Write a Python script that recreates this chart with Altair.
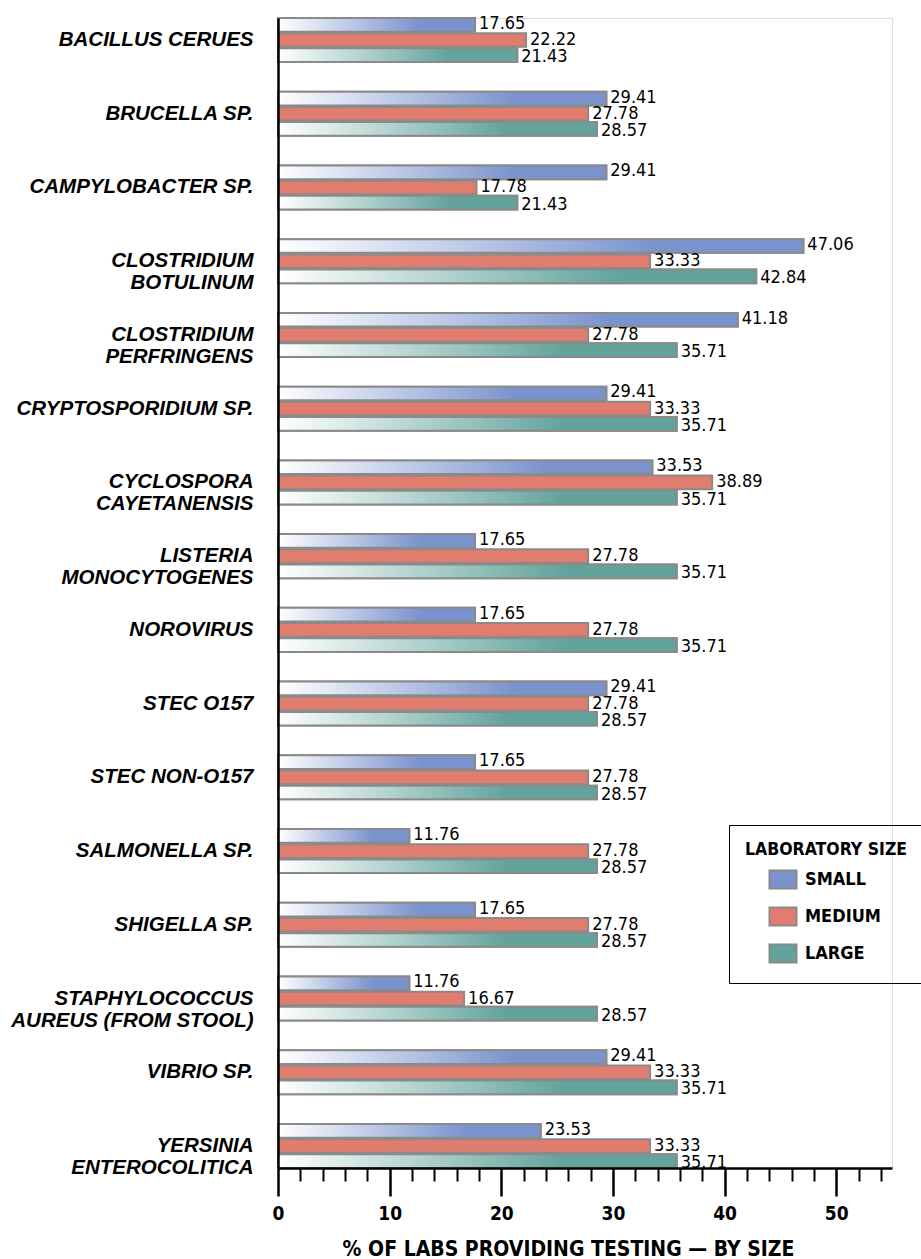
import altair as alt
import pandas as pd

# Organisms (line breaks mark two-line axis labels)
categories = [
    "BACILLUS CERUES",
    "BRUCELLA SP.",
    "CAMPYLOBACTER SP.",
    "CLOSTRIDIUM\nBOTULINUM",
    "CLOSTRIDIUM\nPERFRINGENS",
    "CRYPTOSPORIDIUM SP.",
    "CYCLOSPORA\nCAYETANENSIS",
    "LISTERIA\nMONOCYTOGENES",
    "NOROVIRUS",
    "STEC O157",
    "STEC NON-O157",
    "SALMONELLA SP.",
    "SHIGELLA SP.",
    "STAPHYLOCOCCUS\nAUREUS (FROM STOOL)",
    "VIBRIO SP.",
    "YERSINIA\nENTEROCOLITICA",
]

# % of labs providing testing, by laboratory size
small = [17.65, 29.41, 29.41, 47.06, 41.18, 29.41, 33.53, 17.65,
         17.65, 29.41, 17.65, 11.76, 17.65, 11.76, 29.41, 23.53]
medium = [22.22, 27.78, 17.78, 33.33, 27.78, 33.33, 38.89, 27.78,
          27.78, 27.78, 27.78, 27.78, 27.78, 16.67, 33.33, 33.33]
large = [21.43, 28.57, 21.43, 42.84, 35.71, 35.71, 35.71, 35.71,
         35.71, 28.57, 28.57, 28.57, 28.57, 28.57, 35.71, 35.71]

sizes = ["SMALL", "MEDIUM", "LARGE"]
colors = ["#7B93CD", "#E07D6F", "#62A39B"]
x_ticks = list(range(0, 56, 2))

rows = []
for i, org in enumerate(categories):
    for s, vals in zip(sizes, (small, medium, large)):
        rows.append({"organism": org, "size": s, "pct": vals[i]})
df = pd.DataFrame(rows)

SANS = "Liberation Sans"
COND = "DejaVu Sans Condensed"
BAR_STROKE = "#8A8A8A"
MAJOR = "datum.value % 10 === 0"

x_enc = alt.X(
    "pct:Q",
    scale=alt.Scale(domain=[0, 55], nice=False, zero=True),
    axis=alt.Axis(
        title="% OF LABS PROVIDING TESTING \u2014 BY SIZE",
        values=x_ticks,
        labelExpr=f"{MAJOR} ? datum.label : ''",
        tickSize=28,
        # minor ticks: only the first 13px of each tick is drawn
        tickDash={"condition": {"test": MAJOR, "value": [40, 10]}, "value": [13, 40]},
        tickWidth={"condition": {"test": MAJOR, "value": 2.5}, "value": 2},
        tickColor="black",
        domainColor="black",
        domainWidth=2.5,
        grid=False,
        labelFont=COND,
        labelFontSize=19,
        labelFontWeight="bold",
        labelColor="black",
        labelPadding=8,
        labelFlush=False,
        titleFont=COND,
        titleFontSize=21,
        titleFontWeight="bold",
        titleColor="black",
        titleX=290,
        titleY=87,
        titleAlign="center",
        titleBaseline="alphabetic",
        zindex=1,
    ),
)

y_enc = alt.Y(
    "organism:N",
    sort=categories,
    scale=alt.Scale(paddingInner=0.403, paddingOuter=0),
    axis=alt.Axis(
        title=None,
        labelExpr="split(datum.label, '\\n')",
        labelFont=SANS,
        labelFontSize=20.5,
        labelFontStyle="italic",
        labelFontWeight="bold",
        labelColor="black",
        labelLineHeight=22,
        labelPadding=25,
        labelLimit=400,
        ticks=False,
        domainColor="black",
        domainWidth=2.5,
        zindex=1,
    ),
)

y_off = alt.YOffset(
    "size:N",
    sort=sizes,
    scale=alt.Scale(domain=sizes, paddingInner=0.1, paddingOuter=0),
)


def ramp(color):
    return alt.Gradient(
        gradient="linear",
        stops=[
            alt.GradientStop(color="#FFFFFF", offset=0),
            alt.GradientStop(color=color, offset=0.72),
            alt.GradientStop(color=color, offset=1),
        ],
        x1=0, x2=1, y1=0, y2=0,
    )


base = alt.Chart(df)

# solid bars carry the legend
solid = base.mark_bar(stroke=BAR_STROKE, strokeWidth=2).encode(
    x=x_enc,
    y=y_enc,
    yOffset=y_off,
    color=alt.Color(
        "size:N",
        scale=alt.Scale(domain=sizes, range=colors),
        legend=alt.Legend(
            title="LABORATORY SIZE",
            orient="none",
            legendX=451,
            legendY=807,
            padding=16,
            strokeColor="black",
            titleFont=COND,
            titleFontSize=17.5,
            titleFontWeight="bold",
            titleColor="black",
            titleLimit=400,
            titlePadding=11,
            labelFont=COND,
            labelFontSize=18,
            labelFontWeight="bold",
            labelColor="black",
            labelOffset=12,
            labelLimit=300,
            symbolType="M-1.5,-1L1.5,-1L1.5,1L-1.5,1Z",
            symbolSize=324,
            symbolStrokeColor=BAR_STROKE,
            symbolStrokeWidth=2,
            symbolOpacity=1,
            symbolOffset=28,
            rowPadding=11,
        ),
    ),
)

layers = [solid]

# white-to-colour ramps on the small and large bars
for s, c in (("SMALL", colors[0]), ("LARGE", colors[2])):
    layers.append(
        base.transform_filter(alt.datum.size == s)
        .mark_bar(fill=ramp(c), stroke=BAR_STROKE, strokeWidth=2)
        .encode(x=x_enc, y=y_enc, yOffset=y_off)
    )

# value labels
for s, dy in zip(sizes, (-1, 0, 2)):
    layers.append(
        base.transform_filter(alt.datum.size == s)
        .mark_text(align="left", baseline="middle", dx=4, dy=dy,
                   font=COND, fontSize=18, color="black")
        .encode(x=x_enc, y=y_enc, yOffset=y_off,
                text=alt.Text("pct:Q", format=".2f"))
    )

chart = (
    alt.layer(*layers)
    .properties(
        width=614,
        height=1150,
        autosize=alt.AutoSizeParams(type="none"),
        padding={"left": 278, "top": 18, "right": 29, "bottom": 91},
    )
    .configure_view(stroke=None)
    .configure_legend(strokeWidth=2)
    .configure(background="white")
)

chart.save("out.html", embed_options={"renderer": "svg", "actions": False})
